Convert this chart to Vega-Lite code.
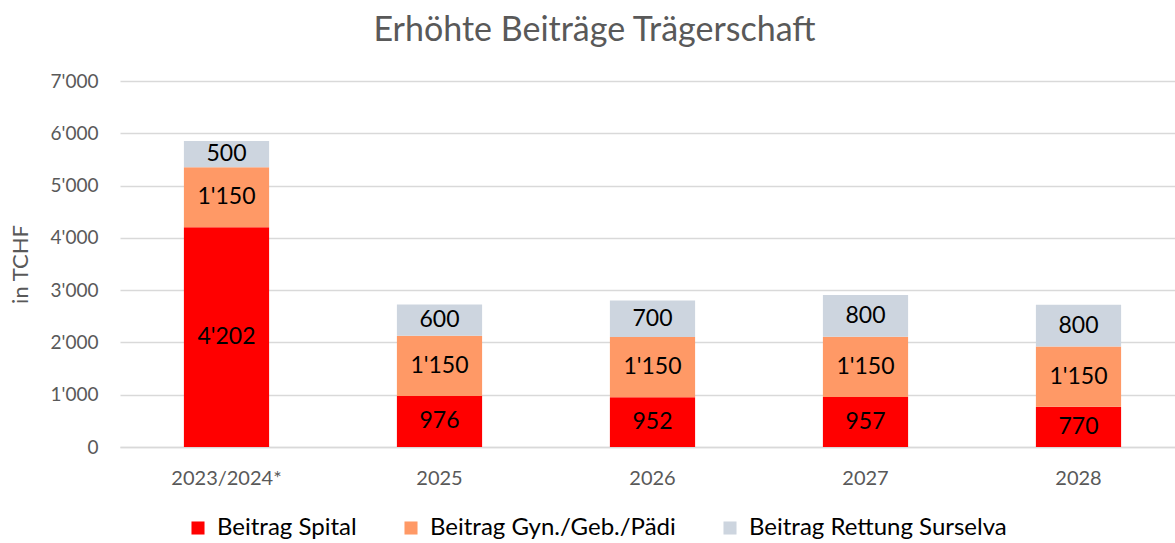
{
  "$schema": "https://vega.github.io/schema/vega-lite/v6.json",
  "width": 1065,
  "height": 366,
  "autosize": "none",
  "padding": {"left": 120, "top": 81, "right": 0, "bottom": 96},
  "background": "white",
  "config": {
    "font": "Lato",
    "view": {"stroke": null},
    "locale": {"number": {"decimal": ".", "thousands": "'", "grouping": [3], "currency": ["", ""]}},
    "axisY": {
      "title": "in TCHF",
      "titleFontSize": 22,
      "titleFontWeight": "normal",
      "titleColor": "#595959",
      "titlePadding": 18,
      "labelFontSize": 19,
      "labelColor": "#595959",
      "labelPadding": 22,
      "ticks": false,
      "domain": false,
      "gridColor": "#D9D9D9",
      "gridWidth": 1.5
    }
  },
  "title": {
    "text": "Erhöhte Beiträge Trägerschaft",
    "fontSize": 34,
    "font": "Lato",
    "fontWeight": "normal",
    "color": "#595959",
    "anchor": "middle",
    "dx": -58,
    "offset": 24
  },
  "data": {
    "values": [
      {"year": "2023/2024*", "cat": "Beitrag Spital", "ord": 1, "value": 4202},
      {"year": "2023/2024*", "cat": "Beitrag Gyn./Geb./Pädi", "ord": 2, "value": 1150},
      {"year": "2023/2024*", "cat": "Beitrag Rettung Surselva", "ord": 3, "value": 500},
      {"year": "2025", "cat": "Beitrag Spital", "ord": 1, "value": 976},
      {"year": "2025", "cat": "Beitrag Gyn./Geb./Pädi", "ord": 2, "value": 1150},
      {"year": "2025", "cat": "Beitrag Rettung Surselva", "ord": 3, "value": 600},
      {"year": "2026", "cat": "Beitrag Spital", "ord": 1, "value": 952},
      {"year": "2026", "cat": "Beitrag Gyn./Geb./Pädi", "ord": 2, "value": 1150},
      {"year": "2026", "cat": "Beitrag Rettung Surselva", "ord": 3, "value": 700},
      {"year": "2027", "cat": "Beitrag Spital", "ord": 1, "value": 957},
      {"year": "2027", "cat": "Beitrag Gyn./Geb./Pädi", "ord": 2, "value": 1150},
      {"year": "2027", "cat": "Beitrag Rettung Surselva", "ord": 3, "value": 800},
      {"year": "2028", "cat": "Beitrag Spital", "ord": 1, "value": 770},
      {"year": "2028", "cat": "Beitrag Gyn./Geb./Pädi", "ord": 2, "value": 1150},
      {"year": "2028", "cat": "Beitrag Rettung Surselva", "ord": 3, "value": 800}
    ]
  },
  "transform": [
    {"stack": "value", "groupby": ["year"], "sort": [{"field": "ord", "order": "ascending"}], "as": ["v0", "v1"]},
    {"calculate": "(datum.v0 + datum.v1) / 2", "as": "vmid"}
  ],
  "encoding": {
    "x": {
      "field": "year",
      "type": "nominal",
      "sort": null,
      "scale": {"paddingInner": 0.6, "paddingOuter": 0.3},
      "axis": {
        "title": null,
        "labelAngle": 0,
        "labelFontSize": 20,
        "labelColor": "#595959",
        "labelPadding": 21,
        "ticks": false,
        "domainColor": "#D9D9D9",
        "domainWidth": 1.5
      }
    }
  },
  "layer": [
    {
      "mark": {"type": "bar"},
      "encoding": {
        "y": {
          "field": "v0",
          "type": "quantitative",
          "scale": {"domain": [0, 7000]},
          "axis": {
            "title": "in TCHF",
            "values": [0, 1000, 2000, 3000, 4000, 5000, 6000, 7000],
            "labelExpr": "datum.value == 0 ? '0' : floor(datum.value / 1000) + \"'000\""
          }
        },
        "y2": {"field": "v1"},
        "color": {
          "field": "cat",
          "type": "nominal",
          "sort": ["Beitrag Spital", "Beitrag Gyn./Geb./Pädi", "Beitrag Rettung Surselva"],
          "scale": {
            "domain": ["Beitrag Spital", "Beitrag Gyn./Geb./Pädi", "Beitrag Rettung Surselva"],
            "range": ["#FF0000", "#FF9966", "#CDD5DF"]
          },
          "legend": {
            "title": null,
            "orient": "none",
            "direction": "horizontal",
            "legendX": 66,
            "legendY": 435,
            "symbolType": "square",
            "symbolSize": 170,
            "symbolStrokeWidth": 0,
            "labelFontSize": 24,
            "labelLimit": 500,
            "labelColor": "#000000",
            "columnPadding": 42,
            "labelOffset": 7
          }
        }
      }
    },
    {
      "mark": {"type": "text", "fontSize": 23, "color": "#000000", "baseline": "middle", "align": "center"},
      "encoding": {
        "y": {
          "field": "vmid",
          "type": "quantitative",
          "scale": {"domain": [0, 7000]},
          "axis": {
            "title": "in TCHF",
            "values": [0, 1000, 2000, 3000, 4000, 5000, 6000, 7000],
            "labelExpr": "datum.value == 0 ? '0' : floor(datum.value / 1000) + \"'000\""
          }
        },
        "text": {"field": "value", "type": "quantitative", "format": ","}
      }
    }
  ]
}
